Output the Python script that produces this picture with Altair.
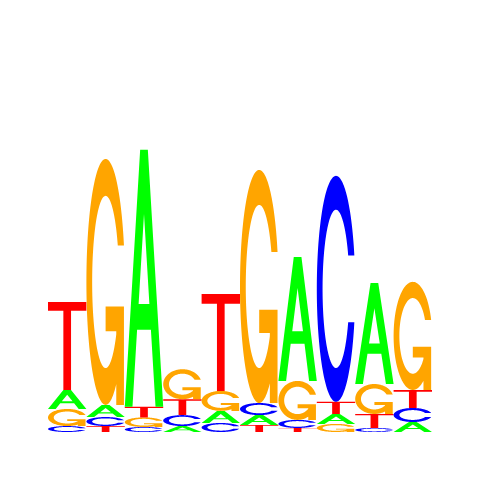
import math
import numpy as np
import pandas as pd
import altair as alt

# ---- data (information content, bits) ----
POSITIONS = [1, 2, 3, 4, 5, 6, 7, 8, 9, 10]
LETTERS = ["A", "C", "G", "T"]
COLORS = ["#00FF00", "#0000FF", "#FFA500", "#FF0000"]
BITS_A = [0.099, 0.063, 1.339, 0.031, 0.063, 0.052, 0.646, 0.052, 0.526, 0.052]
BITS_C = [0.031, 0.047, 0.026, 0.057, 0.047, 0.063, 0.042, 1.177, 0.021, 0.073]
BITS_G = [0.089, 1.281, 0.050, 0.156, 0.104, 1.214, 0.203, 0.042, 0.156, 0.563]
BITS_T = [0.458, 0.031, 0.055, 0.083, 0.505, 0.036, 0.021, 0.063, 0.073, 0.094]

Y_MAX = 2.0
PLOT_W = 384
PLOT_H = 384
PAD = 48
COL_W = PLOT_W / len(POSITIONS)
PX_PER_BIT = PLOT_H / Y_MAX


# ---- glyph outlines in a unit box (u right, v up) ----
def _orient(poly, ccw=True):
    area = 0.0
    for (x0, y0), (x1, y1) in zip(poly, poly[1:] + poly[:1]):
        area += x0 * y1 - x1 * y0
    if (area > 0) != ccw:
        poly = poly[::-1]
    return poly


def _c_ring():
    n = 40
    a_out = np.concatenate([np.linspace(0.3 + math.pi / 2, math.pi, n),
                            np.linspace(math.pi, 1.5 * math.pi, n)[1:]])
    xo = 0.5 + 0.5 * np.sin(a_out)
    yo = 0.5 + 0.5 * np.cos(a_out)
    h = yo[0]
    a0 = math.acos((h - 0.5) / 0.35)
    a_in = np.concatenate([np.linspace(a0, math.pi, n),
                           np.linspace(math.pi, 1.5 * math.pi, n)[1:]])
    xi = 0.5 + 0.35 * np.sin(a_in)
    yi = 0.5 + 0.35 * np.cos(a_in)
    outer = list(zip(xo, yo)) + list(zip(xo[::-1][1:], 1 - yo[::-1][1:]))
    inner = list(zip(xi, yi)) + list(zip(xi[::-1][1:], 1 - yi[::-1][1:]))
    return outer + inner[::-1], float(xo[0])


def glyph(letter):
    if letter == "A":
        outer = [(0, 0), (0.4, 1), (0.6, 1), (1, 0), (0.8, 0), (0.68, 0.3), (0.32, 0.3), (0.2, 0)]
        hole = [(0.36, 0.4), (0.5, 0.75), (0.64, 0.4)]
        return [_orient(outer, True), _orient(hole, False)]
    if letter == "T":
        t = [(0, 1), (1, 1), (1, 0.9), (0.6, 0.9), (0.6, 0), (0.4, 0), (0.4, 0.9), (0, 0.9)]
        return [_orient(t, True)]
    ring, r1 = _c_ring()
    if letter == "C":
        return [_orient(ring, True)]
    bar = [(r1, 0.4), (0.5, 0.4), (0.5, 0.3), (r1 - 0.2, 0.3), (r1 - 0.2, 0), (r1, 0)]
    return [_orient(ring, True), _orient(bar, True)]


GLYPHS = {l: glyph(l) for l in LETTERS}


def symbol_path(letter, bits):
    k = bits * PX_PER_BIT / COL_W
    parts = []
    for poly in GLYPHS[letter]:
        pts = " L".join(f"{2 * u - 1:.4f},{-(2 * v - 1) * k:.4f}" for u, v in poly)
        parts.append("M" + pts + " Z")
    return " ".join(parts)


# ---- stack letters per position (smallest at the bottom) ----
series = {"A": BITS_A, "C": BITS_C, "G": BITS_G, "T": BITS_T}
rows = []
for i, pos in enumerate(POSITIONS):
    col = sorted(((series[l][i], l) for l in LETTERS))
    base = 0.0
    for bits, l in col:
        rows.append({"pos": pos, "letter": l, "bits": bits,
                     "mid": base + bits / 2, "path": symbol_path(l, bits)})
        base += bits
df = pd.DataFrame(rows)

chart = alt.Chart(df).mark_point(filled=True, opacity=1, strokeWidth=0).encode(
    x=alt.X("pos:Q", scale=alt.Scale(domain=[0.5, len(POSITIONS) + 0.5], nice=False, zero=False), axis=None),
    y=alt.Y("mid:Q", scale=alt.Scale(domain=[0, Y_MAX], nice=False, zero=False), axis=None),
    shape=alt.Shape("path:N", scale=None, legend=None),
    color=alt.Color("letter:N", scale=alt.Scale(domain=LETTERS, range=COLORS), legend=None),
    size=alt.value(COL_W ** 2),
).properties(
    width=PLOT_W,
    height=PLOT_H,
    padding={"left": PAD, "right": PAD, "top": PAD, "bottom": PAD},
    autosize=alt.AutoSizeParams(type="none"),
    background="white",
).configure_view(stroke="transparent")

chart.save("out.html", embed_options={"renderer": "svg", "actions": False})
